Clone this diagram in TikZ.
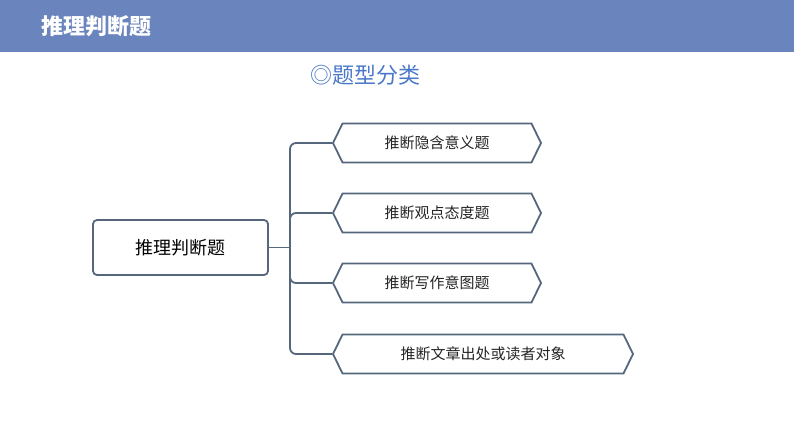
\documentclass[tikz,border=0pt]{standalone}
\usepackage{fontspec}
\setmainfont{Noto Sans CJK SC}
\usetikzlibrary{shapes.symbols}
\definecolor{hdr}{HTML}{6A84BE}
\definecolor{edge}{HTML}{56677D}
\definecolor{ttl}{HTML}{4A78C8}
\tikzset{
  leaf/.style={signal, signal to=west and east, signal pointer angle=128, draw=edge, line width=1.8pt, fill=white, minimum height=39pt, inner xsep=4pt, anchor=west, font=\fontsize{15}{15}\selectfont, text=black!85},
  conn/.style={draw=edge, line width=1.8pt, rounded corners=6pt}
}
\begin{document}
\begin{tikzpicture}[x=1pt,y=-1pt]
\useasboundingbox (0,0) rectangle (794,447);
\fill[hdr] (0,0) rectangle (794,52);
\node[font=\fontsize{22}{22}\selectfont\bfseries, text=white, anchor=west] (hd) at (38,26) {推理判断题};
\node[font=\fontsize{22}{22}\selectfont, text=ttl] (tt) at (365,75) {◎题型分类};
\node[draw=edge, line width=1.8pt, rounded corners=4pt, fill=white, minimum width=175pt, minimum height=55pt, font=\fontsize{18}{18}\selectfont] (root) at (180.5,247.5) {推理判断题};
\node[leaf, minimum width=208pt] (a) at (332,143) {推断隐含意义题};
\node[leaf, minimum width=208pt] (b) at (332,213) {推断观点态度题};
\node[leaf, minimum width=208pt] (c) at (332,283) {推断写作意图题};
\node[leaf, minimum width=300pt] (d) at (332,354) {推断文章出处或读者对象};
\coordinate (j) at (290,247.5);
\draw[conn] (root.east) -- (j);
\draw[conn] (a.west) -| (j) |- (d.west);
\draw[conn] (b.west) -| (j);
\draw[conn] (c.west) -| (j);
\end{tikzpicture}
\end{document}
